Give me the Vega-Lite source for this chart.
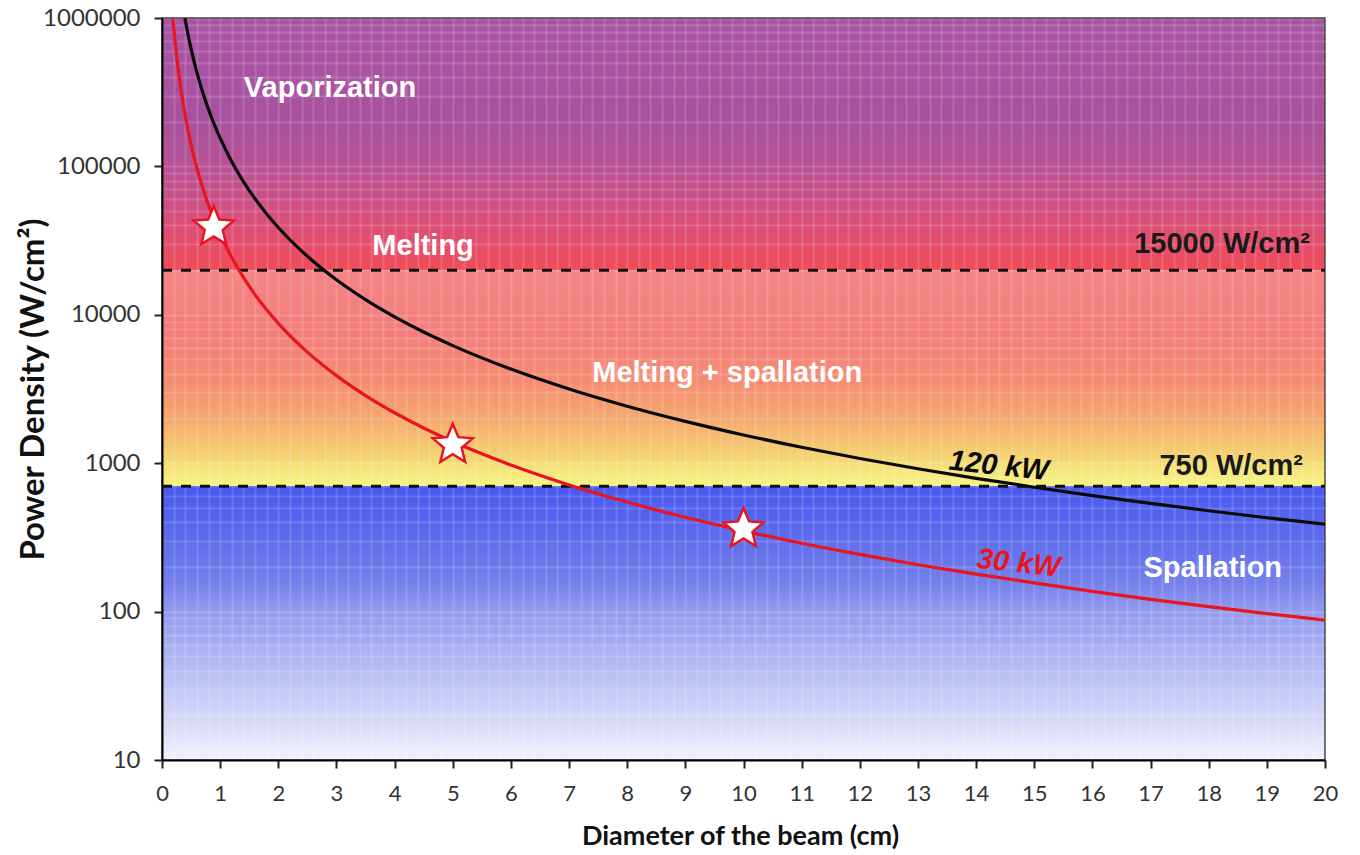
{
  "$schema": "https://vega.github.io/schema/vega-lite/v6.json",
  "width": 1163,
  "height": 742,
  "autosize": {"type": "none"},
  "padding": {"left": 162, "top": 18, "right": 35, "bottom": 95},
  "background": "white",
  "view": {
    "stroke": "#333333",
    "strokeWidth": 1.5,
    "fill": {
      "gradient": "linear", "x1": 0, "y1": 0, "x2": 0, "y2": 1,
      "stops": [
        {"offset": 0, "color": "#A955A6"},
        {"offset": 0.14, "color": "#A8529E"},
        {"offset": 0.205, "color": "#BA5294"},
        {"offset": 0.245, "color": "#CC5088"},
        {"offset": 0.3, "color": "#E44E6E"},
        {"offset": 0.3395, "color": "#F04C58"},
        {"offset": 0.3399, "color": "#F48686"},
        {"offset": 0.42, "color": "#F47C7C"},
        {"offset": 0.488, "color": "#F58C72"},
        {"offset": 0.542, "color": "#F5AA70"},
        {"offset": 0.582, "color": "#F5CC72"},
        {"offset": 0.616, "color": "#F5EA7A"},
        {"offset": 0.6305, "color": "#F8F284"},
        {"offset": 0.6312, "color": "#4858F0"},
        {"offset": 0.7, "color": "#5E6CEC"},
        {"offset": 0.76, "color": "#7480EA"},
        {"offset": 0.8, "color": "#939BEF"},
        {"offset": 0.88, "color": "#B8BDF4"},
        {"offset": 0.95, "color": "#D8DAF8"},
        {"offset": 1, "color": "#F2F2FC"}
      ]
    }
  },
  "datasets": {
    "curves": [
      {"series": "30 kW", "d": 0.188, "pd": 990000},
      {"series": "30 kW", "d": 0.2, "pd": 875000},
      {"series": "30 kW", "d": 0.25, "pd": 560000},
      {"series": "30 kW", "d": 0.3, "pd": 388900},
      {"series": "30 kW", "d": 0.35, "pd": 285700},
      {"series": "30 kW", "d": 0.4, "pd": 218750},
      {"series": "30 kW", "d": 0.5, "pd": 140000},
      {"series": "30 kW", "d": 0.6, "pd": 97220},
      {"series": "30 kW", "d": 0.7, "pd": 71430},
      {"series": "30 kW", "d": 0.8, "pd": 54690},
      {"series": "30 kW", "d": 0.9, "pd": 43210},
      {"series": "30 kW", "d": 1.0, "pd": 35000},
      {"series": "30 kW", "d": 1.2, "pd": 24300},
      {"series": "30 kW", "d": 1.4, "pd": 17860},
      {"series": "30 kW", "d": 1.6, "pd": 13670},
      {"series": "30 kW", "d": 1.8, "pd": 10800},
      {"series": "30 kW", "d": 2, "pd": 8750},
      {"series": "30 kW", "d": 2.5, "pd": 5600},
      {"series": "30 kW", "d": 3, "pd": 3890},
      {"series": "30 kW", "d": 3.5, "pd": 2857},
      {"series": "30 kW", "d": 4, "pd": 2188},
      {"series": "30 kW", "d": 4.5, "pd": 1728},
      {"series": "30 kW", "d": 5, "pd": 1400},
      {"series": "30 kW", "d": 6, "pd": 972},
      {"series": "30 kW", "d": 7, "pd": 714},
      {"series": "30 kW", "d": 8, "pd": 547},
      {"series": "30 kW", "d": 9, "pd": 432},
      {"series": "30 kW", "d": 10, "pd": 350},
      {"series": "30 kW", "d": 11, "pd": 289},
      {"series": "30 kW", "d": 12, "pd": 243},
      {"series": "30 kW", "d": 13, "pd": 207},
      {"series": "30 kW", "d": 14, "pd": 179},
      {"series": "30 kW", "d": 15, "pd": 156},
      {"series": "30 kW", "d": 16, "pd": 137},
      {"series": "30 kW", "d": 17, "pd": 121},
      {"series": "30 kW", "d": 18, "pd": 108},
      {"series": "30 kW", "d": 19, "pd": 97},
      {"series": "30 kW", "d": 20, "pd": 87.5},
      {"series": "120 kW", "d": 0.394, "pd": 998000},
      {"series": "120 kW", "d": 0.42, "pd": 878700},
      {"series": "120 kW", "d": 0.45, "pd": 765400},
      {"series": "120 kW", "d": 0.5, "pd": 620000},
      {"series": "120 kW", "d": 0.6, "pd": 430600},
      {"series": "120 kW", "d": 0.7, "pd": 316300},
      {"series": "120 kW", "d": 0.8, "pd": 242200},
      {"series": "120 kW", "d": 0.9, "pd": 191400},
      {"series": "120 kW", "d": 1, "pd": 155000},
      {"series": "120 kW", "d": 1.2, "pd": 107600},
      {"series": "120 kW", "d": 1.4, "pd": 79080},
      {"series": "120 kW", "d": 1.6, "pd": 60550},
      {"series": "120 kW", "d": 1.8, "pd": 47840},
      {"series": "120 kW", "d": 2, "pd": 38750},
      {"series": "120 kW", "d": 2.5, "pd": 24800},
      {"series": "120 kW", "d": 3, "pd": 17220},
      {"series": "120 kW", "d": 3.5, "pd": 12650},
      {"series": "120 kW", "d": 4, "pd": 9688},
      {"series": "120 kW", "d": 4.5, "pd": 7654},
      {"series": "120 kW", "d": 5, "pd": 6200},
      {"series": "120 kW", "d": 6, "pd": 4306},
      {"series": "120 kW", "d": 7, "pd": 3163},
      {"series": "120 kW", "d": 8, "pd": 2422},
      {"series": "120 kW", "d": 9, "pd": 1914},
      {"series": "120 kW", "d": 10, "pd": 1550},
      {"series": "120 kW", "d": 11, "pd": 1281},
      {"series": "120 kW", "d": 12, "pd": 1076},
      {"series": "120 kW", "d": 13, "pd": 917},
      {"series": "120 kW", "d": 14, "pd": 791},
      {"series": "120 kW", "d": 15, "pd": 689},
      {"series": "120 kW", "d": 16, "pd": 605},
      {"series": "120 kW", "d": 17, "pd": 536},
      {"series": "120 kW", "d": 18, "pd": 478},
      {"series": "120 kW", "d": 19, "pd": 429},
      {"series": "120 kW", "d": 20, "pd": 388}
    ],
    "stars": [
      {"d": 0.89, "pd": 39000},
      {"d": 5, "pd": 1330},
      {"d": 10, "pd": 360}
    ],
    "thresholds": [
      {"d": 0, "d2": 20, "pd": 20000, "label": "15000 W/cm²"},
      {"d": 0, "d2": 20, "pd": 700, "label": "750 W/cm²"}
    ],
    "regions": [
      {"label": "Vaporization", "d": 2.89, "pd": 335000},
      {"label": "Melting", "d": 4.49, "pd": 29000},
      {"label": "Melting + spallation", "d": 9.72, "pd": 4050},
      {"label": "Spallation", "d": 18.07, "pd": 197}
    ],
    "thresholdLabels": [
      {"label": "15000 W/cm²", "d": 19.74, "pd": 30000},
      {"label": "750 W/cm²", "d": 19.62, "pd": 957}
    ],
    "seriesLabels": [
      {"series": "120 kW", "d": 14.39, "pd": 960},
      {"series": "30 kW", "d": 14.73, "pd": 212}
    ]
  },
  "encoding": {
    "x": {
      "field": "d",
      "type": "quantitative",
      "scale": {"domain": [0, 20], "nice": false, "zero": false},
      "axis": {
        "title": "Diameter of the beam (cm)",
        "values": [0,0.2,0.4,0.6,0.8,1,1.2,1.4,1.6,1.8,2,2.2,2.4,2.6,2.8,3,3.2,3.4,3.6,3.8,4,4.2,4.4,4.6,4.8,5,5.2,5.4,5.6,5.8,6,6.2,6.4,6.6,6.8,7,7.2,7.4,7.6,7.8,8,8.2,8.4,8.6,8.8,9,9.2,9.4,9.6,9.8,10,10.2,10.4,10.6,10.8,11,11.2,11.4,11.6,11.8,12,12.2,12.4,12.6,12.8,13,13.2,13.4,13.6,13.8,14,14.2,14.4,14.6,14.8,15,15.2,15.4,15.6,15.8,16,16.2,16.4,16.6,16.8,17,17.2,17.4,17.6,17.8,18,18.2,18.4,18.6,18.8,19,19.2,19.4,19.6,19.8,20],
        "tickCount": 500,
        "labelExpr": "datum.value % 1 === 0 ? format(datum.value, 'd') : ''",
        "labelOverlap": false,
        "labelFlush": false,
        "labelBound": false,
        "labelFont": "Lato",
        "labelFontSize": 22,
        "labelColor": "#333333",
        "labelPadding": 15,
        "tickSize": 8,
        "tickWidth": 2,
        "tickColor": "#222222",
        "tickOpacity": {"condition": {"test": "datum.value % 1 === 0", "value": 1}, "value": 0},
        "domainColor": "#000000",
        "domainWidth": 2,
        "grid": true,
        "gridColor": "#ffffff",
        "gridOpacity": 0.14,
        "gridWidth": 2,
        "titleFont": "Lato",
        "titleFontWeight": "bold",
        "titleFontSize": 27,
        "titleColor": "#111111",
        "titleX": 578,
        "titleY": 76,
        "titleAlign": "center",
        "titleBaseline": "middle"
      }
    },
    "y": {
      "field": "pd",
      "type": "quantitative",
      "scale": {"type": "log", "domain": [10, 1000000], "nice": false},
      "axis": {
        "title": "Power Density (W/cm²)",
        "values": [10,20,30,40,50,60,70,80,90,100,200,300,400,500,600,700,800,900,1000,2000,3000,4000,5000,6000,7000,8000,9000,10000,20000,30000,40000,50000,60000,70000,80000,90000,100000,200000,300000,400000,500000,600000,700000,800000,900000,1000000],
        "tickCount": 500,
        "labelExpr": "indexof([10,100,1000,10000,100000,1000000], datum.value) >= 0 ? format(datum.value, 'd') : ''",
        "labelOverlap": false,
        "labelFlush": false,
        "labelBound": false,
        "labelFont": "Lato",
        "labelFontSize": 24,
        "labelColor": "#333333",
        "labelPadding": 14,
        "tickSize": 8,
        "tickWidth": 2,
        "tickColor": "#222222",
        "tickOpacity": {"condition": {"test": "indexof([10,100,1000,10000,100000,1000000], datum.value) >= 0", "value": 1}, "value": 0},
        "domainColor": "#000000",
        "domainWidth": 2,
        "grid": true,
        "gridColor": "#ffffff",
        "gridOpacity": 0.14,
        "gridWidth": 2,
        "titleFont": "Lato",
        "titleFontWeight": "bold",
        "titleFontSize": 33,
        "titleColor": "#111111",
        "titleAngle": -90,
        "titleX": -129,
        "titleY": 371,
        "titleAlign": "center",
        "titleBaseline": "middle"
      }
    }
  },
  "layer": [
    {
      "data": {"name": "thresholds"},
      "mark": {"type": "rule", "color": "#111111", "strokeWidth": 3, "strokeDash": [10, 9]},
      "encoding": {"x2": {"field": "d2"}}
    },
    {
      "data": {"name": "curves"},
      "mark": {"type": "line", "strokeWidth": 3.2, "interpolate": "monotone", "clip": true},
      "encoding": {
        "color": {
          "field": "series",
          "type": "nominal",
          "scale": {"domain": ["30 kW", "120 kW"], "range": ["#E8141E", "#0A0A0A"]},
          "legend": null
        }
      }
    },
    {
      "data": {"name": "stars"},
      "mark": {
        "type": "point",
        "shape": "M0,-1L0.265,-0.364L0.951,-0.309L0.428,0.139L0.588,0.809L0,0.45L-0.588,0.809L-0.428,0.139L-0.951,-0.309L-0.265,-0.364Z",
        "filled": true,
        "fill": "#ffffff",
        "stroke": "#E8141E",
        "strokeWidth": 2.5,
        "size": 1764,
        "opacity": 1
      }
    },
    {
      "data": {"name": "regions"},
      "mark": {"type": "text", "font": "Liberation Sans", "fontWeight": "bold", "fontSize": 29, "fill": "#ffffff", "align": "center", "baseline": "middle"},
      "encoding": {"text": {"field": "label"}}
    },
    {
      "data": {"name": "thresholdLabels"},
      "mark": {"type": "text", "font": "Liberation Sans", "fontWeight": "bold", "fontSize": 29, "fill": "#1a1a1a", "align": "right", "baseline": "middle"},
      "encoding": {"text": {"field": "label"}}
    },
    {
      "data": {"name": "seriesLabels"},
      "mark": {"type": "text", "font": "Liberation Sans", "fontWeight": "bold", "fontStyle": "italic", "fontSize": 29, "angle": 6, "align": "center", "baseline": "middle"},
      "encoding": {
        "text": {"field": "series"},
        "color": {"field": "series", "type": "nominal", "legend": null}
      }
    }
  ]
}
